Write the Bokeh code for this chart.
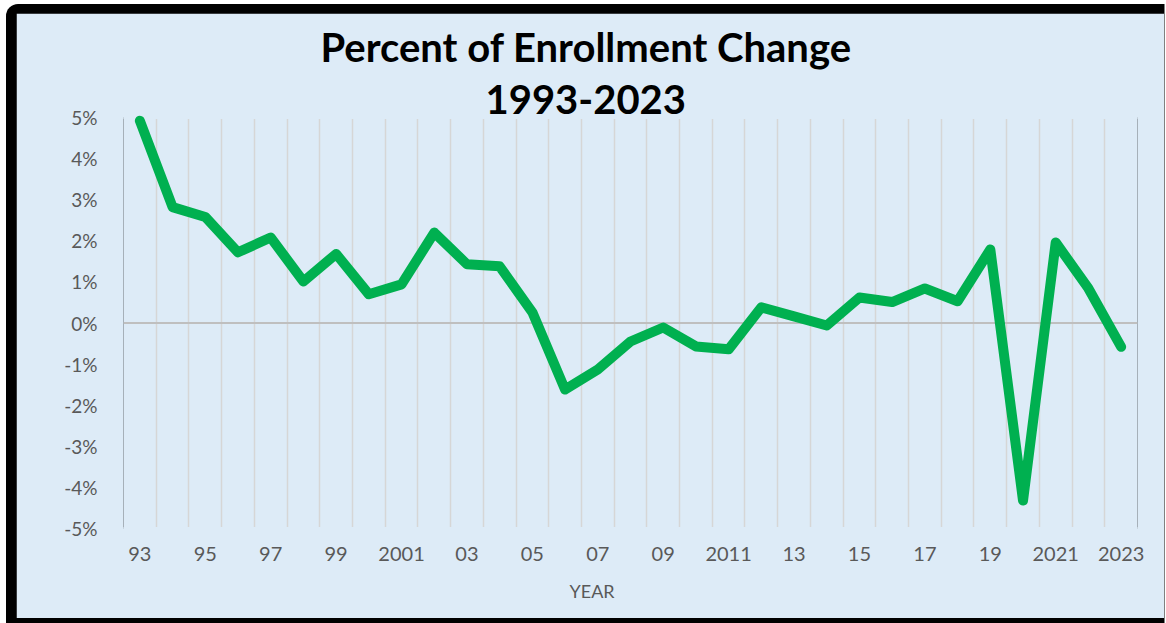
from bokeh.plotting import figure
from bokeh.models import (Range1d, FixedTicker, PrintfTickFormatter, Span, Title)
from bokeh.layouts import column
from bokeh.embed import file_html
from bokeh.resources import INLINE

# ---- data ----
years = list(range(1993, 2024))
pct_change = [4.92, 2.82, 2.58, 1.72, 2.08, 1.01, 1.68, 0.70, 0.94, 2.20,
              1.43, 1.38, 0.26, -1.62, -1.13, -0.45, -0.11, -0.57, -0.64, 0.38,
              0.16, -0.06, 0.62, 0.51, 0.84, 0.53, 1.79, -4.32, 1.96, 0.84,
              -0.58]
tick_years = [1993, 1995, 1997, 1999, 2001, 2003, 2005, 2007, 2009, 2011,
              2013, 2015, 2017, 2019, 2021, 2023]
tick_labels = ["93", "95", "97", "99", "2001", "03", "05", "07", "09", "2011",
               "13", "15", "17", "19", "2021", "2023"]
y_ticks = [-5, -4, -3, -2, -1, 0, 1, 2, 3, 4, 5]
title_line1 = "Percent of Enrollment Change"
title_line2 = "1993-2023"
x_title = "YEAR"

BG = "#DDEBF7"
FONT = "Lato"

x_lo, x_hi = years[0] - 0.5, years[-1] + 0.5
y_lo, y_hi = y_ticks[0], y_ticks[-1]

p = figure(width=1148, height=605, output_backend="svg", toolbar_location=None,
           x_range=Range1d(x_lo, x_hi), y_range=Range1d(y_lo, y_hi),
           min_border_left=107, min_border_right=27,
           min_border_top=104, min_border_bottom=90,
           background_fill_color=BG, border_fill_color=BG)
for prop in p.properties():
    if ("outline" in prop or "frame" in prop) and prop.endswith("line_alpha"):
        setattr(p, prop, 0.0)
    if ("outline" in prop or "frame" in prop) and prop.endswith("line_color"):
        setattr(p, prop, None)

# vertical gridlines at category boundaries
p.xgrid.ticker = FixedTicker(ticks=[y - 0.5 for y in years] + [x_hi])
p.xgrid.grid_line_color = "#D6D6D6"
p.xgrid.grid_line_width = 1.5
p.ygrid.visible = False

# zero line
p.add_layout(Span(location=0, dimension="width", line_color="#BFBFBF", line_width=2))

# mask any edge line along the top and bottom of the plot frame
p.segment(x0=[x_lo, x_lo], y0=[y_hi, y_lo], x1=[x_hi, x_hi], y1=[y_hi, y_lo],
          line_color=BG, line_width=3, level="overlay")

# axes
p.xaxis.ticker = FixedTicker(ticks=tick_years)
p.xaxis.major_label_overrides = {yr: lab for yr, lab in zip(tick_years, tick_labels)}
p.yaxis.ticker = FixedTicker(ticks=y_ticks)
p.yaxis.formatter = PrintfTickFormatter(format="%d%%")
for ax in (p.xaxis[0], p.yaxis[0]):
    ax.axis_line_color = None
    ax.major_tick_line_color = None
    ax.minor_tick_line_color = None
    ax.major_label_text_color = "#595959"
    ax.major_label_text_font = FONT
    ax.major_label_text_font_size = "19px"
p.xaxis.major_label_text_font_size = "20px"
p.yaxis.major_label_standoff = 20
p.xaxis.major_label_standoff = 12

# data line
p.line(years, pct_change, line_width=10, line_color="#00B050",
       line_cap="round", line_join="round", level="overlay")

# titles (first added sits closest to the plot)
p.add_layout(Title(text=title_line2, align="left", offset=362, standoff=8,
                   text_font=FONT, text_font_style="bold", text_font_size="40px",
                   text_color="#000000", border_line_color=None), "above")
p.add_layout(Title(text=title_line1, align="left", offset=197, standoff=15,
                   text_font=FONT, text_font_style="bold", text_font_size="40px",
                   text_color="#000000", border_line_color=None), "above")
p.add_layout(Title(text=x_title, align="left", offset=446, standoff=28,
                   text_font=FONT, text_font_style="normal", text_font_size="18px",
                   text_color="#595959", border_line_color=None), "below")

layout = column(p, styles={"background-color": "#000000",
                           "margin-top": "4px", "margin-left": "6px",
                           "padding": "9px 0px 5px 10px",
                           "border-right": "1px solid #808080",
                           "border-top-left-radius": "12px"})

open("out.html", "w").write(file_html(layout, INLINE))
